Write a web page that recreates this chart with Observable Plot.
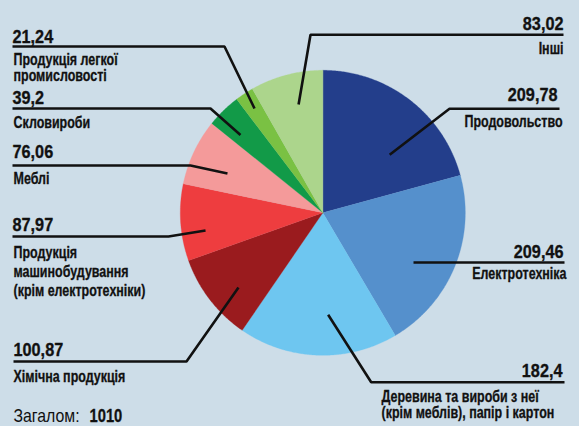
<!DOCTYPE html>
<html><head><meta charset="utf-8">
<script src="https://cdn.jsdelivr.net/npm/d3@7"></script>
<script src="https://cdn.jsdelivr.net/npm/@observablehq/plot@0.6"></script>
<style>
html,body{margin:0;padding:0;background:#cddde8;}
#chart svg{display:block}
</style>
</head><body><div id="chart"></div>
<script>
// ---- data ----
const categories = [
  "Продовольство",
  "Електротехніка",
  "Деревина та вироби з неї\n(крім меблів), папір і картон",
  "Хімічна продукція",
  "Продукція\nмашинобудування\n(крім електротехніки)",
  "Меблі",
  "Скловироби",
  "Продукція легкої\nпромисловості",
  "Інші"
];
const values = [209.78, 209.46, 182.4, 100.87, 87.97, 76.06, 39.2, 21.24, 83.02];
const colors = ["#233e8b", "#5590cc", "#6ec6f0", "#9a1b1e", "#ee3d3f", "#f49a9a", "#129a48", "#7ac143", "#acd58c"];
const totalLabel = "Загалом:";

// ---- layout ----
const W = 579, H = 426, CX = 322.3, CY = 212.3, R = 142.5;
const BG = "#cddde8";
const FONT = "'Liberation Sans', Arial, sans-serif";
// per category: number anchor, name anchor, leader polyline (outer part), tip in polar (deg, px)
const layout = [
  {numX: 557, numY: 100, nameX: 562, nameY: 126, gap: 16, line: [[559, 108.3], [449, 108.3]], tip: [49, 88.6]},
  {numX: 563, numY: 257, nameX: 566, nameY: 278, gap: 16, line: [[564, 262]], tip: [118.7, 103.4]},
  {numX: 562, numY: 376, nameX: 381, nameY: 401, gap: 16.3, nameAnchor: "start", line: [[564, 381.7], [370.7, 381.7]], tip: [177, 102.1]},
  {numX: 13, numY: 355, nameX: 13, nameY: 381, gap: 16, line: [[13, 361], [186, 361]], tip: [228.5, 112.6]},
  {numX: 12, numY: 230, nameX: 13, nameY: 257, gap: 19, line: [[12, 236], [168, 236]], tip: [261.4, 118.6]},
  {numX: 12, numY: 157, nameX: 13, nameY: 183, gap: 16, line: [[12, 165], [190, 165]], tip: [292.4, 103.1]},
  {numX: 12, numY: 103, nameX: 13, nameY: 127, gap: 16, line: [[12, 108], [210, 108]], tip: [313.4, 113.3]},
  {numX: 12, numY: 42, nameX: 13, nameY: 64, gap: 16.3, line: [[12, 46], [224, 46]], tip: [326.8, 124.7]},
  {numX: 563, numY: 29, nameX: 563, nameY: 53, gap: 16, line: [[563, 34.3], [310, 34.3]], tip: [347.4, 111]}
];

// ---- derived geometry ----
const arcs = d3.pie().sort(null).value(d => d)(values);
const piePts = [];
arcs.forEach((a, i) => {
  const name = categories[i];
  piePts.push({name, x: CX, y: CY});
  const n = Math.max(2, Math.ceil((a.endAngle - a.startAngle) / (Math.PI / 360)));
  for (let k = 0; k <= n; k++) {
    const t = a.startAngle + (a.endAngle - a.startAngle) * k / n;
    piePts.push({name, x: CX + R * Math.sin(t), y: CY - R * Math.cos(t)});
  }
});

const leaderPts = [];
const numRows = [];
const nameRows = [];
layout.forEach((L, i) => {
  L.line.forEach(([x, y]) => leaderPts.push({id: i, x, y}));
  const t = L.tip[0] * Math.PI / 180;
  leaderPts.push({id: i, x: CX + L.tip[1] * Math.sin(t), y: CY - L.tip[1] * Math.cos(t)});
  const right = L.numX > W / 2;
  numRows.push({x: L.numX, y: L.numY, text: String(values[i]).replace(".", ","), anchor: right ? "end" : "start"});
  categories[i].split("\n").forEach((s, j) => {
    nameRows.push({x: L.nameX, y: L.nameY + j * L.gap, text: s, anchor: L.nameAnchor || (right ? "end" : "start")});
  });
});
const total = d3.sum(values);
const totalRows = [{x: 13, y: 421.5, text: totalLabel}];
const totalNumRows = [{x: 89, y: 421.5, text: String(Math.round(total))}];

const txt = (rows, anchor, size, weight, scaleX, sw) => Plot.text(rows.filter(d => d.anchor === undefined || d.anchor === anchor), {
  x: "x", y: "y", text: "text", textAnchor: anchor, lineAnchor: "bottom",
  fontFamily: FONT, fontWeight: weight, fontSize: size, fill: "#111",
  stroke: sw ? "#111" : undefined, strokeWidth: sw || undefined,
  ariaDescription: "sx:" + scaleX
});

const chart = Plot.plot({
  width: W, height: H, margin: 0,
  style: {background: BG},
  x: {domain: [0, W], range: [0, W], axis: null},
  y: {domain: [0, H], range: [0, H], axis: null},
  color: {domain: categories, range: colors},
  marks: [
    Plot.line(piePts, {x: "x", y: "y", z: "name", fill: "name", stroke: "name", strokeWidth: 0.3, curve: "linear-closed"}),
    Plot.line(leaderPts, {x: "x", y: "y", z: "id", stroke: "#111", strokeWidth: 2.6, strokeLinecap: "butt", strokeLinejoin: "miter"}),
    txt(numRows, "end", 17.5, "bold", 0.93, 0.3),
    txt(numRows, "start", 17.5, "bold", 0.93, 0.3),
    txt(nameRows, "end", 16, "bold", 0.78, 0.3),
    txt(nameRows, "start", 16, "bold", 0.78, 0.3),
    txt(totalRows, "start", 18, "normal", 0.88, 0),
    txt(totalNumRows, "start", 18, "bold", 0.82, 0.3)
  ]
});
// condensed rendering of the text marks (horizontal scale about each anchor)
chart.querySelectorAll("g[aria-description^='sx:']").forEach(g => {
  const s = +g.getAttribute("aria-description").slice(3);
  g.querySelectorAll("text").forEach(t => {
    const tr = t.getAttribute("transform");
    if (tr) {
      t.setAttribute("transform", tr + ` scale(${s},1)`);
    } else {
      const x = +(t.getAttribute("x") || 0), y = +(t.getAttribute("y") || 0);
      t.removeAttribute("x"); t.removeAttribute("y");
      t.setAttribute("transform", `translate(${x},${y}) scale(${s},1)`);
    }
  });
});
document.getElementById("chart").append(chart);
</script>
</body></html>
